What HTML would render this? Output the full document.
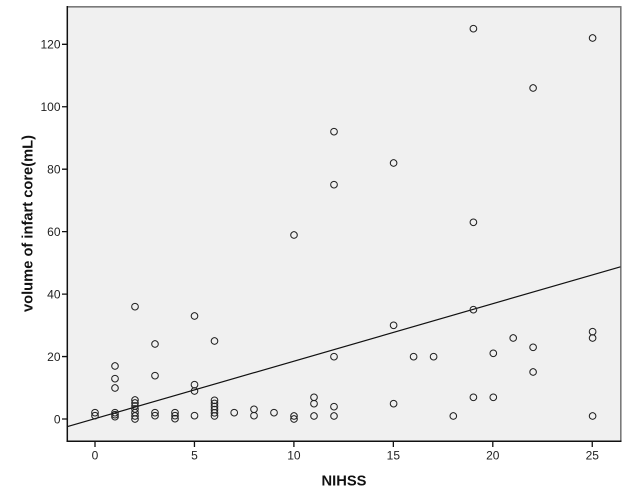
<!DOCTYPE html>
<html>
<head>
<meta charset="utf-8">
<style>
html,body{margin:0;padding:0;background:#fff;}
svg{display:block;}
text{font-family:"Liberation Sans",Arial,sans-serif;}
</style>
</head>
<body>
<svg width="629" height="504" viewBox="0 0 629 504" xmlns="http://www.w3.org/2000/svg">
<rect x="0" y="0" width="629" height="504" fill="#fff"/>
<rect x="67" y="7" width="554" height="434" fill="#f0f0f0"/>
<line x1="67" y1="6.8" x2="621.5" y2="6.8" stroke="#7a7a7a" stroke-width="1.6"/>
<line x1="620.8" y1="6.8" x2="620.8" y2="441" stroke="#7a7a7a" stroke-width="1.6"/>
<line x1="67.3" y1="6" x2="67.3" y2="441.5" stroke="#111" stroke-width="1.5"/>
<line x1="66.5" y1="441.2" x2="621.5" y2="441.2" stroke="#111" stroke-width="1.5"/>
<path d="M62 419H67M62 356.55H67M62 294.1H67M62 231.65H67M62 169.2H67M62 106.75H67M62 44.3H67M95 441V447M194.45 441V447M293.9 441V447M393.35 441V447M492.8 441V447M592.25 441V447" stroke="#111" stroke-width="1.3" fill="none"/>
<g font-size="12" fill="#222" text-anchor="end">
<text x="60.5" y="423.3">0</text>
<text x="60.5" y="360.8">20</text>
<text x="60.5" y="298.4">40</text>
<text x="60.5" y="235.9">60</text>
<text x="60.5" y="173.5">80</text>
<text x="60.5" y="111">100</text>
<text x="60.5" y="48.6">120</text>
</g>
<g font-size="12" fill="#222" text-anchor="middle">
<text x="95" y="459.5">0</text>
<text x="194.45" y="459.5">5</text>
<text x="293.9" y="459.5">10</text>
<text x="393.35" y="459.5">15</text>
<text x="492.8" y="459.5">20</text>
<text x="592.25" y="459.5">25</text>
</g>
<text x="344" y="485.5" font-size="14.7" font-weight="bold" fill="#111" text-anchor="middle">NIHSS</text>
<text transform="translate(32.5,223.5) rotate(-90)" font-size="14.7" font-weight="bold" fill="#111" text-anchor="middle">volume of infart core(mL)</text>
<line x1="67.5" y1="426.6" x2="620.5" y2="266.8" stroke="#111" stroke-width="1.2"/>
<path fill="none" stroke="#222" stroke-width="1" d="
M98.3 412.7a3.3 3.3 0 1 0 0 0.01ZM98.3 415.7a3.3 3.3 0 1 0 0 0.01Z
M118.3 366a3.3 3.3 0 1 0 0 0.01ZM118.3 378.7a3.3 3.3 0 1 0 0 0.01ZM118.3 388a3.3 3.3 0 1 0 0 0.01ZM118.3 412.7a3.3 3.3 0 1 0 0 0.01ZM118.3 414.7a3.3 3.3 0 1 0 0 0.01ZM118.3 416.7a3.3 3.3 0 1 0 0 0.01Z
M138.3 306.7a3.3 3.3 0 1 0 0 0.01ZM138.3 400a3.3 3.3 0 1 0 0 0.01ZM138.3 403a3.3 3.3 0 1 0 0 0.01ZM138.3 406a3.3 3.3 0 1 0 0 0.01ZM138.3 409a3.3 3.3 0 1 0 0 0.01ZM138.3 412.7a3.3 3.3 0 1 0 0 0.01ZM138.3 416a3.3 3.3 0 1 0 0 0.01ZM138.3 419a3.3 3.3 0 1 0 0 0.01Z
M158.3 344a3.3 3.3 0 1 0 0 0.01ZM158.3 375.7a3.3 3.3 0 1 0 0 0.01ZM158.3 412.7a3.3 3.3 0 1 0 0 0.01ZM158.3 415.7a3.3 3.3 0 1 0 0 0.01Z
M178.3 412.7a3.3 3.3 0 1 0 0 0.01ZM178.3 415.7a3.3 3.3 0 1 0 0 0.01ZM178.3 418.7a3.3 3.3 0 1 0 0 0.01Z
M197.8 316a3.3 3.3 0 1 0 0 0.01ZM197.8 384.7a3.3 3.3 0 1 0 0 0.01ZM197.8 391a3.3 3.3 0 1 0 0 0.01ZM197.8 415.7a3.3 3.3 0 1 0 0 0.01Z
M217.8 341a3.3 3.3 0 1 0 0 0.01ZM217.8 400.3a3.3 3.3 0 1 0 0 0.01ZM217.8 403.4a3.3 3.3 0 1 0 0 0.01ZM217.8 406.5a3.3 3.3 0 1 0 0 0.01ZM217.8 409.6a3.3 3.3 0 1 0 0 0.01ZM217.8 412.8a3.3 3.3 0 1 0 0 0.01ZM217.8 415.9a3.3 3.3 0 1 0 0 0.01Z
M237.5 412.7a3.3 3.3 0 1 0 0 0.01Z
M257.3 409.3a3.3 3.3 0 1 0 0 0.01ZM257.3 415.7a3.3 3.3 0 1 0 0 0.01Z
M277.3 412.7a3.3 3.3 0 1 0 0 0.01Z
M297.3 235a3.3 3.3 0 1 0 0 0.01ZM297.3 416a3.3 3.3 0 1 0 0 0.01ZM297.3 419a3.3 3.3 0 1 0 0 0.01Z
M317.3 397.3a3.3 3.3 0 1 0 0 0.01ZM317.3 403.7a3.3 3.3 0 1 0 0 0.01ZM317.3 416a3.3 3.3 0 1 0 0 0.01Z
M337.3 131.7a3.3 3.3 0 1 0 0 0.01ZM337.3 184.7a3.3 3.3 0 1 0 0 0.01ZM337.3 356.7a3.3 3.3 0 1 0 0 0.01ZM337.3 406.7a3.3 3.3 0 1 0 0 0.01ZM337.3 416a3.3 3.3 0 1 0 0 0.01Z
M396.9 163a3.3 3.3 0 1 0 0 0.01ZM396.9 325.3a3.3 3.3 0 1 0 0 0.01ZM396.9 403.7a3.3 3.3 0 1 0 0 0.01Z
M416.9 356.7a3.3 3.3 0 1 0 0 0.01ZM436.9 356.7a3.3 3.3 0 1 0 0 0.01ZM456.6 416a3.3 3.3 0 1 0 0 0.01Z
M476.7 28.7a3.3 3.3 0 1 0 0 0.01ZM476.7 222.3a3.3 3.3 0 1 0 0 0.01ZM476.7 309.7a3.3 3.3 0 1 0 0 0.01ZM476.7 397.3a3.3 3.3 0 1 0 0 0.01Z
M496.6 353.3a3.3 3.3 0 1 0 0 0.01ZM496.6 397.3a3.3 3.3 0 1 0 0 0.01Z
M516.5 338a3.3 3.3 0 1 0 0 0.01Z
M536.4 88a3.3 3.3 0 1 0 0 0.01ZM536.4 347.3a3.3 3.3 0 1 0 0 0.01ZM536.4 372a3.3 3.3 0 1 0 0 0.01Z
M595.9 38a3.3 3.3 0 1 0 0 0.01ZM595.9 331.7a3.3 3.3 0 1 0 0 0.01ZM595.9 338a3.3 3.3 0 1 0 0 0.01ZM595.9 416a3.3 3.3 0 1 0 0 0.01Z"/>
</svg>
</body>
</html>
